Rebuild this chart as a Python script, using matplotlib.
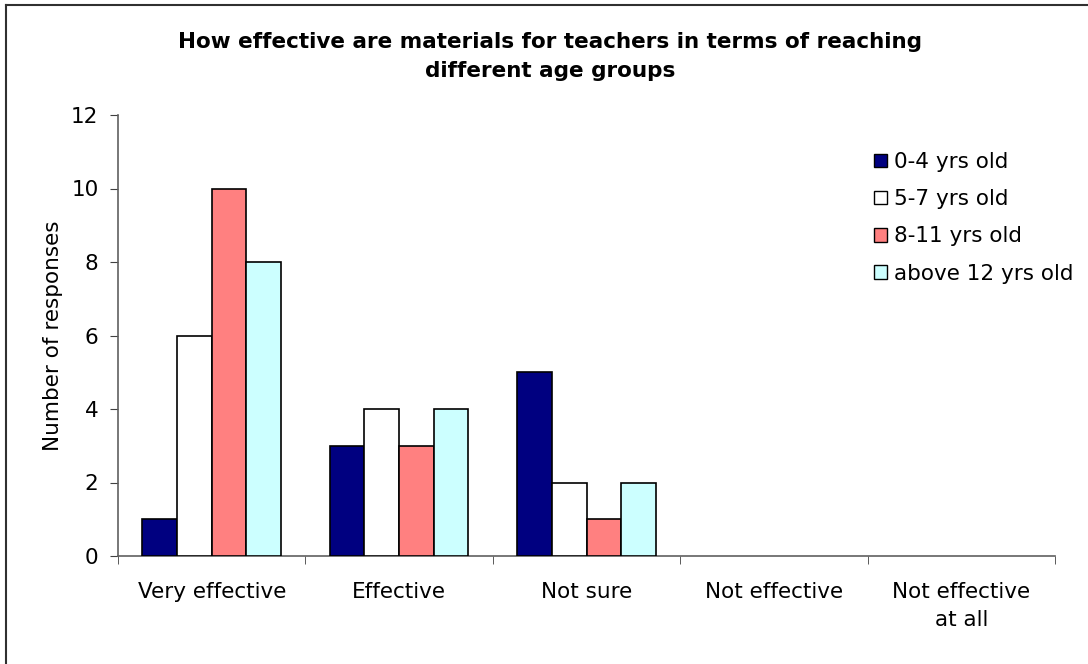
import matplotlib
matplotlib.use("Agg")
import matplotlib.pyplot as plt
import numpy as np
from matplotlib.patches import Patch
from matplotlib.lines import Line2D

categories = ["Very effective", "Effective", "Not sure", "Not effective", "Not effective\nat all"]
series_names = ["0-4 yrs old", "5-7 yrs old", "8-11 yrs old", "above 12 yrs old"]
values_0_4 = [1, 3, 5, 0, 0]
values_5_7 = [6, 4, 2, 0, 0]
values_8_11 = [10, 3, 1, 0, 0]
values_12 = [8, 4, 2, 0, 0]
colors = ["#000080", "#FFFFFF", "#FF8080", "#CCFFFF"]
yticks = [0, 2, 4, 6, 8, 10, 12]

plt.rcParams['font.family'] = ['DejaVu Sans']
fig = plt.figure(figsize=(10.88, 6.64), dpi=100)
ax = fig.add_axes([118/1088, 1-556/664, (1055-118)/1088, (556-115)/664])

all_series = [values_0_4, values_5_7, values_8_11, values_12]
x = np.arange(len(categories))
w = 0.185
for i, (vals, c) in enumerate(zip(all_series, colors)):
    offs = (i - 1.5) * w
    lws = [1.2 if v > 0 else 0 for v in vals]
    ax.bar(x + offs, vals, width=w, color=c, edgecolor="black", linewidth=lws, zorder=3)

FS = 15.5
ax.set_xlim(-0.5, len(categories) - 0.5)
ax.set_ylim(0, 12)
ax.set_yticks(yticks)
ax.set_yticklabels([str(t) for t in yticks], fontsize=FS)
ax.set_xticks(x)
ax.set_xticklabels(categories, fontsize=FS, linespacing=1.5)
ax.set_xticks(np.arange(-0.5, len(categories)), minor=True)
ax.tick_params(axis='x', which='major', length=0, pad=19)
ax.tick_params(axis='x', which='minor', length=6, color="#404040", direction='out')
ax.tick_params(axis='y', which='major', length=6, color="#404040", direction='out', pad=8)
for s in ["top", "right"]:
    ax.spines[s].set_visible(False)
for s in ["left", "bottom"]:
    ax.spines[s].set_color("#606060")
    ax.spines[s].set_linewidth(1.2)

ax.set_ylabel("Number of responses", fontsize=FS, labelpad=6)

fig.text(550/1088, 1-42/664, "How effective are materials for teachers in terms of reaching",
         ha="center", va="center", fontsize=15.5, fontweight="bold")
fig.text(550/1088, 1-71/664, "different age groups",
         ha="center", va="center", fontsize=15.5, fontweight="bold")

handles = [Patch(facecolor=c, edgecolor="black", linewidth=1.0) for c in colors]
leg = fig.legend(handles, series_names, loc="upper left",
                 bbox_to_anchor=(874/1088, 1-152/664), frameon=False, fontsize=FS,
                 handlelength=0.6, handleheight=0.6, handletextpad=0.35,
                 labelspacing=0.8, borderpad=0, borderaxespad=0)

# outer chart border (left and top edges visible)
fig.add_artist(Line2D([6/1088, 6/1088], [0, 1-5/664], transform=fig.transFigure, color="#303030", linewidth=1.5))
fig.add_artist(Line2D([6/1088, 1], [1-5/664, 1-5/664], transform=fig.transFigure, color="#303030", linewidth=1.5))

fig.savefig("out.png", dpi=100)
